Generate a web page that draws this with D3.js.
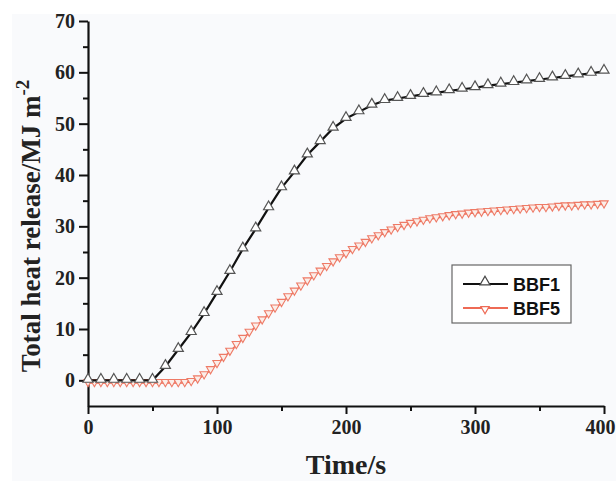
<!DOCTYPE html>
<html>
<head>
  <script src="https://d3js.org/d3.v7.min.js"></script>
  <style>
    body { margin: 0; background: #fff; }
    .tick text { font-family: "Liberation Serif", serif; font-weight: bold; font-size: 20px; fill: #222; }
    .axis-title { font-family: "Liberation Serif", serif; font-weight: bold; fill: #222; }
    .legend text { font-family: "Liberation Sans", Arial, sans-serif; font-weight: bold; font-size: 18px; fill: #111; }
  </style>
</head>
<body>
<div id="chart"></div>
<script>
// BBF1: every 10 s
const timeBBF1 = d3.range(0, 401, 10);
const heatBBF1 = [0, 0, 0, 0, 0, 0, 2.7, 6.0, 9.3, 13.0, 17.1, 21.2, 25.6, 29.5, 33.6, 37.5, 40.6, 43.9, 46.5, 49.1,
  51.0, 52.3, 53.6, 54.5, 54.9, 55.3, 55.7, 56.0, 56.4, 56.7, 57.0, 57.4, 57.7, 58.0, 58.3, 58.6, 58.9, 59.2, 59.5, 59.8, 60.2];

// BBF5: every 5 s
const timeBBF5 = d3.range(0, 401, 5);
const heatBBF5 = [-0.5, -0.5, -0.5, -0.5, -0.5, -0.5, -0.5, -0.5, -0.5, -0.5, -0.5, -0.5, -0.5, -0.5, -0.5, -0.5, -0.3,
  0.2, 1.0, 2.0, 3.2, 4.4, 5.6, 6.9, 8.1, 9.3, 10.5, 11.7, 12.9, 14.0, 15.1, 16.2, 17.3, 18.3, 19.3, 20.3, 21.2,
  22.1, 23.0, 23.8, 24.6, 25.4, 26.1, 26.8, 27.5, 28.1, 28.7, 29.2, 29.7, 30.1, 30.5, 30.8, 31.1, 31.4, 31.6,
  31.8, 32.0, 32.2, 32.3, 32.5, 32.6, 32.7, 32.8, 32.9, 33.0, 33.1, 33.2, 33.3, 33.4, 33.5, 33.6, 33.6, 33.7,
  33.8, 33.9, 33.9, 34.0, 34.1, 34.1, 34.2, 34.3];

const xTicks = [0, 100, 200, 300, 400];
const yTicks = [0, 10, 20, 30, 40, 50, 60, 70];
const seriesNames = ["BBF1", "BBF5"];

const W = 616, H = 481;
const svg = d3.select("#chart").append("svg").attr("width", W).attr("height", H);

svg.append("rect").attr("x", 12).attr("y", 14).attr("width", W - 12).attr("height", H - 14).attr("fill", "#f9fafc");

const x = d3.scaleLinear().domain([0, 400]).range([88, 604]);
const y = d3.scaleLinear().domain([-5, 70]).range([406, 21]);

// minor ticks
svg.append("g").attr("transform", "translate(0,406)")
  .call(d3.axisBottom(x).tickValues([50, 150, 250, 350]).tickSize(5).tickFormat(""))
  .call(g => g.select(".domain").remove())
  .selectAll("line").attr("stroke", "#111").attr("stroke-width", 2);
svg.append("g").attr("transform", "translate(88,0)")
  .call(d3.axisLeft(y).tickValues([5, 15, 25, 35, 45, 55, 65]).tickSize(5).tickFormat(""))
  .call(g => g.select(".domain").remove())
  .selectAll("line").attr("stroke", "#111").attr("stroke-width", 2);

// major axes
const xAxis = svg.append("g").attr("transform", "translate(0,406)")
  .call(d3.axisBottom(x).tickValues(xTicks).tickSize(8).tickSizeOuter(0).tickPadding(6));
const yAxis = svg.append("g").attr("transform", "translate(88,0)")
  .call(d3.axisLeft(y).tickValues(yTicks).tickSize(9).tickSizeOuter(0).tickPadding(4));
[xAxis, yAxis].forEach(a => {
  a.select(".domain").attr("stroke", "#111").attr("stroke-width", 2.2);
  a.selectAll(".tick line").attr("stroke", "#111").attr("stroke-width", 2);
});
// keep the last label inside the frame
xAxis.selectAll(".tick text").filter(d => d === 400).attr("text-anchor", "end").attr("dx", 11);

// titles
svg.append("text").attr("class", "axis-title")
  .attr("x", 346).attr("y", 474).attr("text-anchor", "middle").attr("font-size", 28)
  .text("Time/s");
const yt = svg.append("text").attr("class", "axis-title")
  .attr("transform", "translate(40,226) rotate(-90)").attr("text-anchor", "middle").attr("font-size", 27);
yt.append("tspan").text("Total heat release/MJ m");
yt.append("tspan").attr("dy", -11).attr("font-size", 19).text("-2");

// series
const triBig = d3.symbol().type(d3.symbolTriangle).size(44);
const triSmall = d3.symbol().type(d3.symbolTriangle).size(30);
const line = d3.line().x(d => x(d[0])).y(d => y(d[1]));

const bbf5 = timeBBF5.map((t, i) => [t, heatBBF5[i]]);
const bbf1 = timeBBF1.map((t, i) => [t, heatBBF1[i]]);

svg.append("path").datum(bbf5).attr("d", line).attr("fill", "none").attr("stroke", "#ee6a55").attr("stroke-width", 1.5);
svg.selectAll(".m5").data(bbf5).enter().append("path")
  .attr("d", triSmall).attr("transform", d => `translate(${x(d[0])},${y(d[1]) - 1}) rotate(180)`)
  .attr("fill", "#fbeee9").attr("stroke", "#ee7a66").attr("stroke-width", 1.1);

svg.append("path").datum(bbf1).attr("d", line).attr("fill", "none").attr("stroke", "#111").attr("stroke-width", 2.2);
svg.selectAll(".m1").data(bbf1).enter().append("path")
  .attr("d", triBig).attr("transform", d => `translate(${x(d[0])},${y(d[1]) - 1})`)
  .attr("fill", "#fff").attr("stroke", "#555").attr("stroke-width", 1.2);

// legend
const lg = svg.append("g").attr("class", "legend");
lg.append("rect").attr("x", 452).attr("y", 265).attr("width", 119).attr("height", 58)
  .attr("fill", "#fff").attr("stroke", "#666").attr("stroke-width", 1.2);
const colors = ["#111", "#ee6a55"];
seriesNames.forEach((name, i) => {
  const cy = 284 + i * 24;
  lg.append("line").attr("x1", 463).attr("x2", 508).attr("y1", cy).attr("y2", cy)
    .attr("stroke", colors[i]).attr("stroke-width", i ? 2.2 : 2);
  lg.append("path").attr("d", i ? triSmall : triBig)
    .attr("transform", `translate(485,${cy - (i ? -1 : 2)}) rotate(${i ? 180 : 0})`)
    .attr("fill", "#fff").attr("stroke", i ? "#ee6a55" : "#444").attr("stroke-width", 1.2);
  lg.append("text").attr("x", 513).attr("y", cy + 7).text(name);
});
</script>
</body>
</html>
